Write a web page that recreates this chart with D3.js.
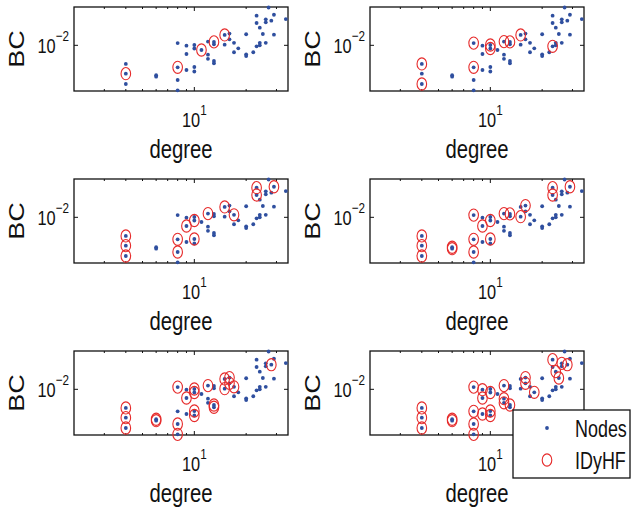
<!DOCTYPE html>
<html>
<head>
<meta charset="utf-8">
<script src="https://cdn.jsdelivr.net/npm/d3@7"></script>
<style>
  body { margin: 0; background: #fff; }
  svg { display: block; }
  text { font-family: "Liberation Sans", Arial, sans-serif; fill: #111; }
</style>
</head>
<body>
<svg id="canvas"></svg>
<script>
// node degree / betweenness centrality (same for every panel)
let degree = [4, 4, 4, 6, 6, 8, 8, 8, 8, 9, 9, 9, 10, 10, 10, 10, 11, 12, 12, 12,
              13, 13, 13, 13, 15, 15, 16, 16, 17, 17, 18, 20, 20, 20, 22, 23, 23, 23, 24, 24,
              24, 25, 26, 26, 26, 27, 28, 29, 29, 34]
let bc = [0.00568, 0.00423, 0.00309, 0.00403, 0.00386, 0.0107, 0.00513, 0.00349, 0.00255, 0.00989,
          0.00769, 0.00473, 0.0101, 0.00908, 0.00518, 0.00452, 0.00868, 0.0112, 0.00752, 0.00664,
          0.0111, 0.0103, 0.00621, 0.0058, 0.0137, 0.0102, 0.012, 0.0143, 0.0108, 0.0081,
          0.00914, 0.014, 0.00762, 0.00723, 0.0081, 0.0246, 0.0197, 0.00971, 0.0171, 0.0108,
          0.0100, 0.0141, 0.0220, 0.0201, 0.0108, 0.0315, 0.0211, 0.0253, 0.0138, 0.0222]

// nodes picked by IDyHF in each panel (indices into the arrays above)
let picked1 = [1, 6, 16, 20, 24]
let picked2 = [0, 2, 5, 6, 12, 13, 17, 20, 24, 37]
let picked3 = [0, 1, 2, 6, 7, 10, 13, 14, 17, 24, 28, 35, 36, 47]
let picked4 = [0, 1, 2, 3, 4, 5, 6, 7, 10, 13, 14, 17, 20, 25, 27, 35, 36, 47]
let picked5 = [0, 1, 2, 3, 4, 5, 7, 8, 10, 12, 13, 14, 15, 17, 22, 23, 24, 25, 26, 27, 28, 46]
let picked6 = [0, 1, 2, 3, 4, 5, 6, 7, 8, 9, 10, 11, 13, 14, 15, 17, 18, 19, 22, 26, 27, 30, 35, 38, 41, 42, 46]
let panels = [picked1, picked2, picked3, picked4, picked5, picked6]

let xMinor = [3, 4, 5, 6, 7, 8, 9, 20, 30]
let xMajor = [10]
let yMajor = [0.01]
let legendLabels = ['Nodes', 'IDyHF']

let width = 631
let height = 509
let plotW = 214
let plotH = 84
let blue = '#2f4f9f'
let red = '#e62a2a'
let squeeze = 0.78

let canvas = d3.select('#canvas')
canvas.attr('width', width)
      .attr('height', height)

let xScale = d3.scaleLog().domain([2, 35]).range([0, plotW])
let yScale = d3.scaleLog().domain([0.0025, 0.032]).range([plotH, 0])

// squeezed text like the original figure
let label = (parent, x, y, size, anchor, rotate) => {
    let g = parent.append('g')
                  .attr('transform', 'translate(' + x + ',' + y + ')' + (rotate ? ' rotate(-90) scale(1,0.85)' : ' scale(' + squeeze + ',1)'))
    return g.append('text')
            .attr('font-size', size)
            .attr('text-anchor', anchor)
}

let drawPanel = (picked, i) => {
    let col = i % 2
    let row = Math.floor(i / 2)
    let x0 = 74 + 296 * col
    let y0 = 7 + 172 * row

    let g = canvas.append('g')
                  .attr('transform', 'translate(' + x0 + ',' + y0 + ')')

    // ticks, inward on both sides
    let ticks = g.append('g').attr('stroke', '#111').attr('stroke-width', 1)
    xMinor.forEach((d) => {
        let x = xScale(d)
        ticks.append('line').attr('x1', x).attr('x2', x).attr('y1', plotH).attr('y2', plotH - 2)
        ticks.append('line').attr('x1', x).attr('x2', x).attr('y1', 0).attr('y2', 2)
    })
    xMajor.forEach((d) => {
        let x = xScale(d)
        ticks.append('line').attr('x1', x).attr('x2', x).attr('y1', plotH).attr('y2', plotH - 4)
        ticks.append('line').attr('x1', x).attr('x2', x).attr('y1', 0).attr('y2', 4)
    })
    yMajor.forEach((d) => {
        let y = yScale(d)
        ticks.append('line').attr('x1', 0).attr('x2', 4).attr('y1', y).attr('y2', y)
        ticks.append('line').attr('x1', plotW).attr('x2', plotW - 4).attr('y1', y).attr('y2', y)
    })

    g.append('rect')
     .attr('x', 0).attr('y', 0)
     .attr('width', plotW).attr('height', plotH)
     .attr('fill', 'none')
     .attr('stroke', '#111')
     .attr('stroke-width', 1.3)

    // nodes
    g.selectAll('circle.node')
     .data(degree)
     .enter()
     .append('circle')
     .attr('class', 'node')
     .attr('cx', (d) => xScale(d))
     .attr('cy', (d, k) => yScale(bc[k]))
     .attr('r', 1.9)
     .attr('fill', blue)

    // picked nodes
    g.selectAll('ellipse.pick')
     .data(picked)
     .enter()
     .append('ellipse')
     .attr('class', 'pick')
     .attr('cx', (k) => xScale(degree[k]))
     .attr('cy', (k) => yScale(bc[k]))
     .attr('rx', 4.8)
     .attr('ry', 6.1)
     .attr('fill', 'none')
     .attr('stroke', red)
     .attr('stroke-width', 1.1)

    // tick labels
    xMajor.forEach((d) => {
        let t = label(g, xScale(d), 120, 21, 'middle')
        t.append('tspan').text('10')
        t.append('tspan').attr('dy', -12).attr('font-size', 15).text(Math.round(Math.log10(d)))
    })
    yMajor.forEach((d) => {
        let t = label(g, -5, yScale(d) + 8, 21, 'end')
        t.append('tspan').text('10')
        t.append('tspan').attr('dy', -12).attr('font-size', 15).text('\u2212' + Math.abs(Math.round(Math.log10(d))))
    })

    label(g, plotW / 2, 151, 26, 'middle').text('degree')
    label(g, -50, plotH / 2, 27, 'middle', true).text('BC')
}

panels.forEach(drawPanel)

// legend over the last panel
let legend = canvas.append('g')
legend.append('rect')
      .attr('x', 513).attr('y', 410)
      .attr('width', 117).attr('height', 68)
      .attr('fill', '#fff')
      .attr('stroke', '#111')
      .attr('stroke-width', 1.3)
legend.append('circle')
      .attr('cx', 547).attr('cy', 428).attr('r', 1.9).attr('fill', blue)
legend.append('ellipse')
      .attr('cx', 547).attr('cy', 460).attr('rx', 4.8).attr('ry', 6.1)
      .attr('fill', 'none').attr('stroke', red).attr('stroke-width', 1.1)
legendLabels.forEach((s, k) => {
    label(legend, 575, 437 + 32 * k, 23, 'start').text(s)
})
</script>
</body>
</html>
